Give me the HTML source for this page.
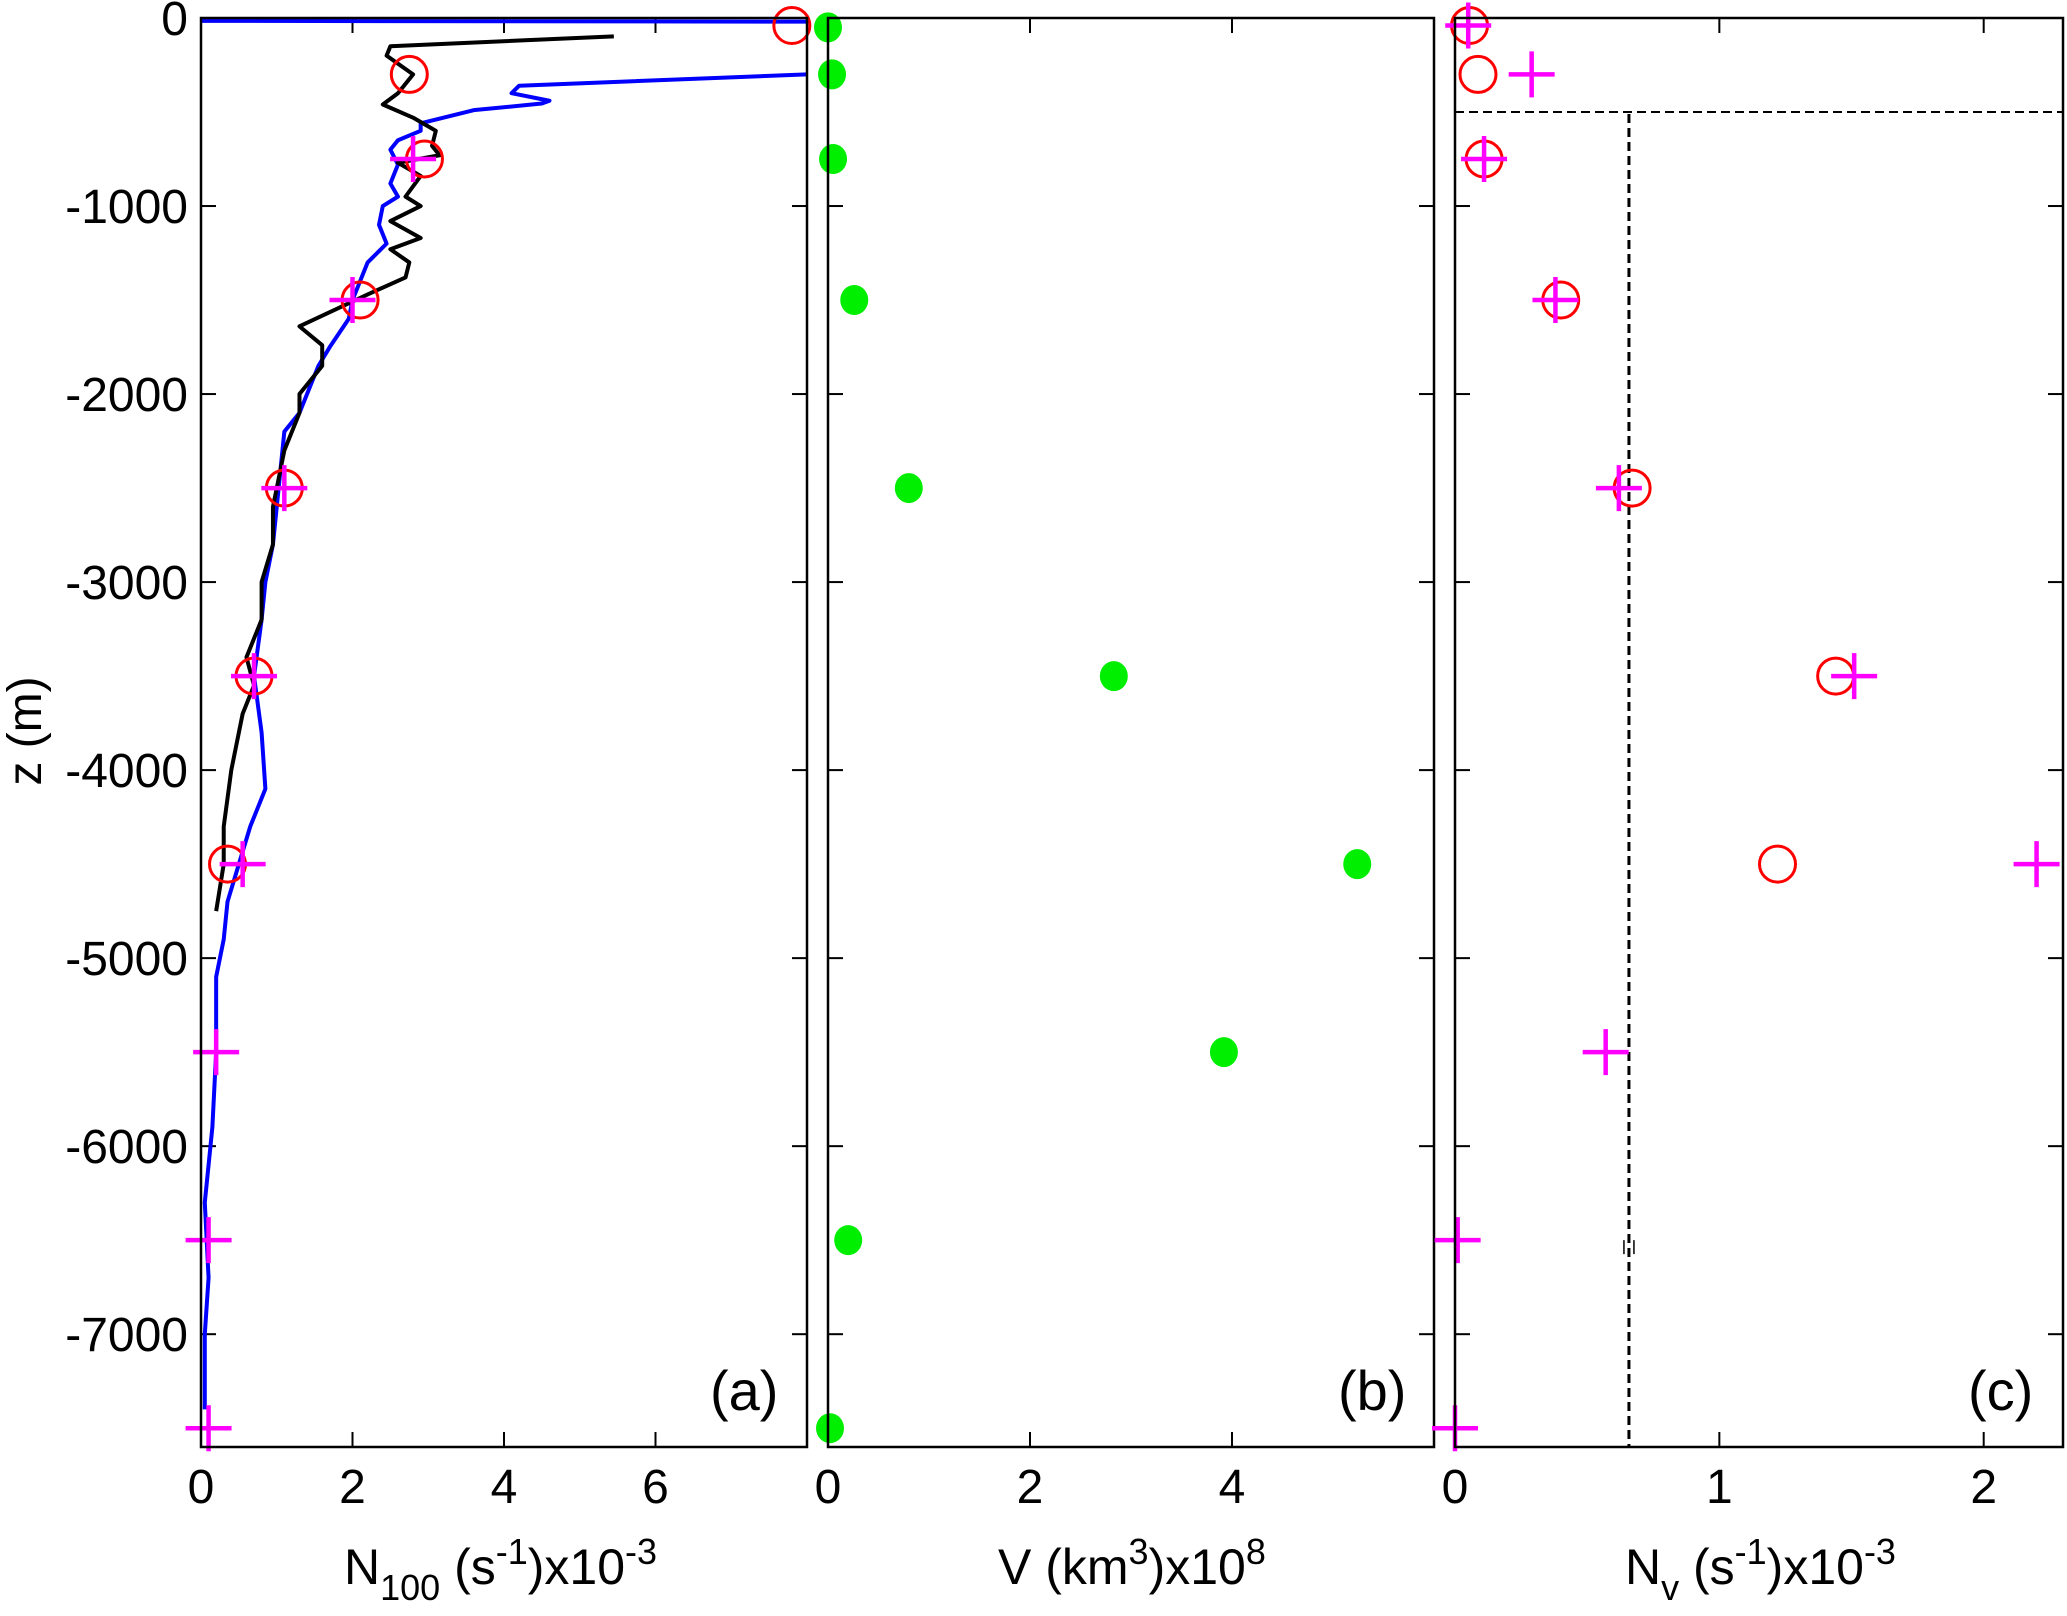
<!DOCTYPE html>
<html><head><meta charset="utf-8"><style>
html,body{margin:0;padding:0;background:#fff;}
svg{display:block;font-family:"Liberation Sans",Arial,sans-serif;}
</style></head><body>
<svg id="fig" width="2067" height="1602" viewBox="0 0 2067 1602" xmlns="http://www.w3.org/2000/svg"></svg>
<script>
// ---- data ----
const zTicks=[0,-1000,-2000,-3000,-4000,-5000,-6000,-7000];
const zTickLabels=["0","-1000","-2000","-3000","-4000","-5000","-6000","-7000"];
const aTicks=[0,2,4,6,8]; const aTickLabels=["0","2","4","6",""];
const bTicks=[0,2,4,6];   const bTickLabels=["0","2","4",""];
const cTicks=[0,1,2];     const cTickLabels=["0","1","2"];
// panel a profiles
const blueZ=[-15,-20,-290,-300,-360,-400,-440,-455,-490,-520,-560,-600,-650,-700,-780,-880,-950,-1000,-1100,-1200,-1300,-1400,-1500,-1600,-1750,-1850,-1950,-2100,-2200,-2400,-2600,-2800,-3000,-3200,-3500,-3800,-4100,-4300,-4500,-4700,-4900,-5100,-5500,-5900,-6300,-6700,-7000,-7400];
const blueN=[0,9,9,8,4.2,4.1,4.6,4.5,3.6,3.3,2.9,2.9,2.6,2.5,2.6,2.5,2.6,2.4,2.35,2.45,2.2,2.1,2.0,1.95,1.7,1.55,1.45,1.3,1.1,1.05,1.0,0.95,0.85,0.8,0.7,0.8,0.85,0.65,0.5,0.35,0.3,0.2,0.2,0.15,0.05,0.1,0.05,0.05];
const blackZ=[-98,-150,-200,-300,-400,-460,-530,-600,-680,-730,-770,-840,-950,-1000,-1080,-1170,-1230,-1300,-1380,-1470,-1640,-1740,-1850,-2000,-2100,-2300,-2600,-2800,-3000,-3200,-3400,-3550,-3700,-4000,-4300,-4500,-4750];
const blackN=[5.45,2.5,2.45,2.8,2.6,2.4,2.8,3.1,3.05,3.15,2.6,2.9,2.7,2.9,2.5,2.9,2.5,2.75,2.7,2.2,1.3,1.6,1.6,1.3,1.3,1.1,0.95,0.95,0.8,0.8,0.6,0.7,0.55,0.4,0.3,0.3,0.2];
const aCircZ=[-40,-300,-750,-1500,-2500,-3500,-4500];
const aCircN=[7.8,2.75,2.95,2.1,1.1,0.7,0.35];
const aPlusZ=[-750,-1500,-2500,-3500,-4500,-5500,-6500,-7500];
const aPlusN=[2.8,2.0,1.1,0.7,0.55,0.2,0.1,0.1];
// panel b
const bZ=[-50,-300,-750,-1500,-2500,-3500,-4500,-5500,-6500,-7500];
const bV=[0.0,0.04,0.05,0.26,0.8,2.83,5.24,3.92,0.2,0.02];
// panel c
const cCircZ=[-40,-300,-750,-1500,-2500,-3500,-4500];
const cCircN=[0.055,0.087,0.11,0.4,0.67,1.44,1.22];
const cPlusZ=[-40,-300,-750,-1500,-2500,-3500,-4500,-5500,-6500,-7500];
const cPlusN=[0.05,0.29,0.11,0.38,0.62,1.51,2.2,0.57,0.01,0.0];
const cRefN=[0.658]; const cRefZ=[-500];

// ---- layout ----
const NS="http://www.w3.org/2000/svg";
const svg=document.getElementById('fig');
const TOP=18, BOT=1447, ZMIN=-7600;
const panels={a:{x0:201,x1:807,max:8},b:{x0:828,x1:1434,max:6},c:{x0:1455,x1:2063,max:2.3}};
function yS(z){return TOP+(z/ZMIN)*(BOT-TOP);}
function xS(p,v){const P=panels[p];return P.x0+v/P.max*(P.x1-P.x0);}
function el(tag,attrs,parent){const e=document.createElementNS(NS,tag);for(const k in attrs)e.setAttribute(k,attrs[k]);(parent||svg).appendChild(e);return e;}

function axes(p,ticks,labels,id){
  const P=panels[p];
  const g=el('g',{});
  
  
  const clip=el('clipPath',{id:'clip-'+p},svg);
  el('rect',{x:P.x0,y:TOP,width:P.x1-P.x0,height:BOT-TOP},clip);
  zTicks.forEach(z=>{
    const y=yS(z);
    el('line',{x1:P.x0,y1:y,x2:P.x0+15,y2:y,stroke:'#000','stroke-width':2},g);
    el('line',{x1:P.x1,y1:y,x2:P.x1-15,y2:y,stroke:'#000','stroke-width':2},g);
  });
  ticks.forEach((t,i)=>{
    const x=xS(p,t);
    el('line',{x1:x,y1:BOT,x2:x,y2:BOT-15,stroke:'#000','stroke-width':2},g);
    el('line',{x1:x,y1:TOP,x2:x,y2:TOP+15,stroke:'#000','stroke-width':2},g);
    if(labels[i]){
      const t2=el('text',{x:x,y:BOT+56,'font-size':48,'text-anchor':'middle'},g);
      t2.textContent=labels[i];
      
      
    }
  });
  return g;
}
function frame(p){
  const P=panels[p];
  const r=el('rect',{x:P.x0,y:TOP,width:P.x1-P.x0,height:BOT-TOP,fill:'none',stroke:'#000','stroke-width':2.5});
  
  
}
function polyline(p,N,Z,color,name){
  const pts=N.map((n,i)=>xS(p,n)+','+yS(Z[i])).join(' ');
  const l=el('polyline',{points:pts,fill:'none',stroke:color,'stroke-width':4,'stroke-linejoin':'round','clip-path':'url(#clip-'+p+')'});
  
  
}
function circles(p,N,Z,name){
  N.forEach((n,i)=>{
    const c=el('circle',{cx:xS(p,n),cy:yS(Z[i]),r:18,fill:'none',stroke:'#ff0000','stroke-width':3});
    
    
  });
}
function pluses(p,N,Z,name){
  N.forEach((n,i)=>{
    const x=xS(p,n),y=yS(Z[i]);
    const d=el('path',{d:`M${x-23},${y}H${x+23}M${x},${y-23}V${y+23}`,stroke:'#ff00ff','stroke-width':4.5,fill:'none'});
    
    
  });
}

// panel a
axes('a',aTicks,aTickLabels,'a');
zTicks.forEach((z,i)=>{
  const t=el('text',{x:188,y:yS(z)+17,'font-size':48,'text-anchor':'end'});
  t.textContent=zTickLabels[i];
  
  
});
polyline('a',blueN,blueZ,'#0000ff','blue-profile');
polyline('a',blackN,blackZ,'#000000','black-profile');
circles('a',aCircN,aCircZ,'panel-a-circle');
pluses('a',aPlusN,aPlusZ,'panel-a-plus');
frame('a');

// panel b
axes('b',bTicks,bTickLabels,'b');
bV.forEach((v,i)=>{
  const c=el('ellipse',{cx:xS('b',v),cy:yS(bZ[i]),rx:14,ry:15,fill:'#00ee00'});
  
  
});
frame('b');

// panel c
axes('c',cTicks,cTickLabels,'c');
{
  const y=yS(cRefZ[0]), x=xS('c',cRefN[0]);
  const h=el('line',{x1:panels.c.x0,y1:y,x2:panels.c.x1,y2:y,stroke:'#000','stroke-width':2,'stroke-dasharray':'9,5'});
  
  
  const v=el('line',{x1:x,y1:y+2,x2:x,y2:BOT,stroke:'#000','stroke-width':3,'stroke-dasharray':'9,5'});
  
  
  const m=el('path',{d:`M${x-5},${yS(-6500)}v14M${x+5},${yS(-6500)}v14`,stroke:'#000','stroke-width':1.5});
  
  
}
circles('c',cCircN,cCircZ,'panel-c-circle');
pluses('c',cPlusN,cPlusZ,'panel-c-plus');
frame('c');
</script>
<div style="position:absolute;left:0;top:0;width:2067px;height:1602px;pointer-events:none;font-family:'Liberation Sans',Arial,sans-serif;">
  <div style="position:absolute;left:710px;top:1358px;font-size:56px;line-height:66px;">(a)</div>
  <div style="position:absolute;left:1338px;top:1358px;font-size:56px;line-height:66px;">(b)</div>
  <div style="position:absolute;left:1968px;top:1358px;font-size:56px;line-height:66px;">(c)</div>
  <div style="position:absolute;left:-74px;top:704px;width:200px;text-align:center;font-size:48px;line-height:54px;white-space:nowrap;transform:rotate(-90deg);">z (m)</div>
  <div style="position:absolute;left:344px;top:1524px;font-size:50px;line-height:56px;white-space:nowrap;">N<sub style="font-size:36px;vertical-align:-16px;">100</sub> (s<sup style="font-size:36px;vertical-align:20px;">-1</sup>)x10<sup style="font-size:36px;vertical-align:20px;">-3</sup></div>
  <div style="position:absolute;left:998px;top:1524px;font-size:50px;line-height:56px;white-space:nowrap;">V (km<sup style="font-size:36px;vertical-align:20px;">3</sup>)x10<sup style="font-size:36px;vertical-align:20px;">8</sup></div>
  <div style="position:absolute;left:1625px;top:1524px;font-size:50px;line-height:56px;white-space:nowrap;">N<sub style="font-size:36px;vertical-align:-16px;">v</sub> (s<sup style="font-size:36px;vertical-align:20px;">-1</sup>)x10<sup style="font-size:36px;vertical-align:20px;">-3</sup></div>
</div>
</body></html>
